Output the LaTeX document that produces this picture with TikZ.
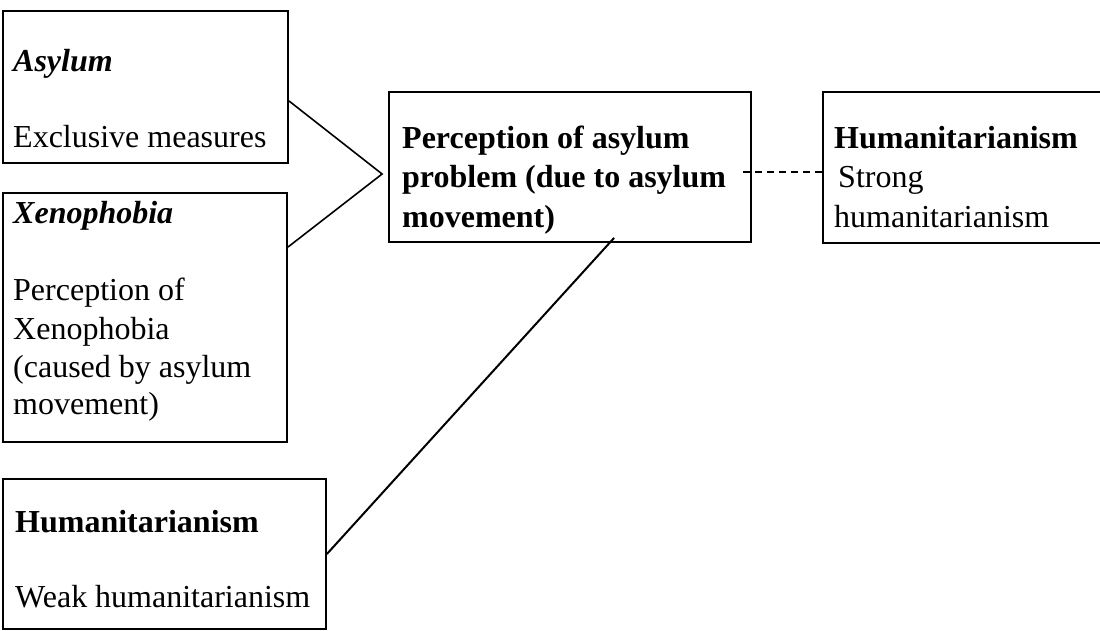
\documentclass[tikz,border=0pt]{standalone}
\usepackage{fontspec}
\setmainfont{Liberation Serif}
\usetikzlibrary{calc}

\tikzset{
  box/.style={draw=black, line width=1.8pt, rectangle, inner sep=0pt},
  txt/.style={anchor=base west, inner sep=0pt, font=\fontsize{32}{38}\selectfont},
  head/.style={txt, font=\fontsize{32}{38}\selectfont\bfseries},
  headit/.style={txt, font=\fontsize{32}{38}\selectfont\bfseries\itshape},
  link/.style={draw=black, line width=1.6pt},
  dashlink/.style={draw=black, line width=1.6pt, dash pattern=on 7pt off 5pt}
}

\begin{document}
\begin{tikzpicture}[x=1pt, y=-1pt]
  \useasboundingbox (0,0) rectangle (1100,631);
  \clip (0,0) rectangle (1100,631);
  \fill[white] (0,0) rectangle (1100,631);

  % boxes
  \node[box, minimum width=285pt, minimum height=152pt] (A) at (145.5,87) {};
  \node[box, minimum width=284pt, minimum height=249pt] (X) at (145,317.5) {};
  \node[box, minimum width=323pt, minimum height=150pt] (W) at (164.5,554) {};
  \node[box, minimum width=362pt, minimum height=150pt] (P) at (570,167) {};
  \node[box, minimum width=292pt, minimum height=151pt] (S) at (969,167.5) {};

  % box texts
  \node[headit] (a1) at (13,72) {Asylum};
  \node[txt] (a2) at (13,148) {Exclusive measures};

  \node[headit] (x1) at (13,223) {Xenophobia};
  \node[txt] (x2) at (13,300) {Perception of};
  \node[txt] (x3) at (13,339) {Xenophobia};
  \node[txt] (x4) at (13,377) {(caused by asylum};
  \node[txt] (x5) at (13,414) {movement)};

  \node[head] (w1) at (15,532) {Humanitarianism};
  \node[txt] (w2) at (15,607) {Weak humanitarianism};

  \node[head] (p1) at (402,149) {Perception of asylum};
  \node[head] (p2) at (402,188) {problem (due to asylum};
  \node[head] (p3) at (402,227) {movement)};

  \node[head] (s1) at (834,149) {Humanitarianism};
  \node[txt] (s2) at (838,188) {Strong};
  \node[txt] (s3) at (834,227) {humanitarianism};

  % connectors
  \coordinate (apex) at ($(P.west)+(-6,7)$);
  \draw[link] ($(A.south east)+(0,-63)$) -- (apex) -- ($(X.north east)+(0,55)$);
  \draw[link, line width=2pt] (W.east) -- ($(P.south west)+(226,-5)$);
  \draw[dashlink] ($(P.east)+(-9,5)$) -- (S.west |- {$(P.east)+(0,5)$});
\end{tikzpicture}
\end{document}
